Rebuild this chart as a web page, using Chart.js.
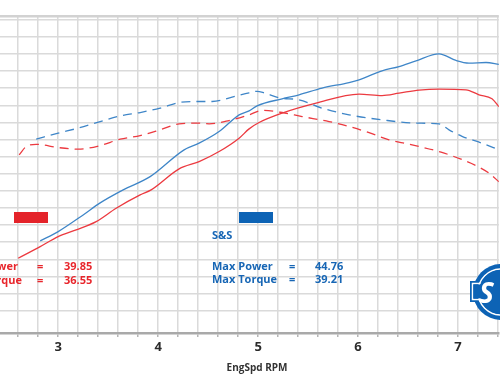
<!DOCTYPE html>
<html>
<head>
<meta charset="utf-8">
<script src="https://cdn.jsdelivr.net/npm/chart.js@4.4.1/dist/chart.umd.min.js"></script>
<style>
  html, body { margin: 0; padding: 0; background: #fff; }
</style>
</head>
<body>
<canvas id="dyno" width="500" height="375"></canvas>
<script>
// engine speed in thousands of rpm, power / torque
const stockPowerRpm = [2.60, 2.82, 3.00, 3.18, 3.38, 3.58, 3.82, 3.93, 4.21, 4.41, 4.61, 4.81, 4.91, 5.01, 5.24, 5.58, 6.01, 6.24, 6.41, 6.61, 6.81, 7.08, 7.21, 7.34, 7.41];
const stockPower    = [15.16, 16.86, 18.32, 19.30, 20.51, 22.47, 24.42, 25.15, 28.22, 29.28, 30.75, 32.70, 34.06, 34.99, 36.36, 37.82, 39.14, 38.93, 39.28, 39.72, 39.87, 39.77, 39.04, 38.45, 37.28];

const stockTorqueRpm = [2.61, 2.68, 2.78, 3.00, 3.20, 3.42, 3.62, 3.82, 4.02, 4.21, 4.41, 4.51, 4.71, 4.91, 5.04, 5.24, 5.44, 5.71, 5.91, 6.11, 6.31, 6.51, 6.83, 7.03, 7.21, 7.31, 7.41];
const stockTorque    = [30.26, 31.48, 31.80, 31.33, 31.10, 31.62, 32.56, 33.08, 33.92, 34.80, 34.90, 34.80, 35.28, 36.11, 36.77, 36.45, 35.86, 35.13, 34.40, 33.52, 32.46, 31.83, 30.66, 29.63, 28.47, 27.59, 26.32];

const ssPowerRpm = [2.82, 3.00, 3.25, 3.42, 3.65, 3.92, 4.26, 4.41, 4.61, 4.81, 4.91, 4.99, 5.24, 5.41, 5.64, 5.91, 6.01, 6.24, 6.41, 6.58, 6.81, 6.98, 7.11, 7.28, 7.41];
const ssPower    = [17.69, 19.05, 21.49, 23.25, 25.15, 27.09, 31.00, 31.97, 33.67, 36.11, 36.70, 37.43, 38.45, 39.04, 40.01, 40.83, 41.23, 42.54, 43.17, 44.01, 45.03, 44.05, 43.67, 43.76, 43.49];

const ssTorqueRpm = [2.78, 3.00, 3.20, 3.42, 3.62, 3.82, 4.02, 4.21, 4.38, 4.54, 4.74, 4.91, 4.99, 5.06, 5.21, 5.41, 5.64, 5.91, 6.24, 6.58, 6.81, 6.91, 7.04, 7.24, 7.41];
const ssTorque    = [32.56, 33.44, 34.17, 35.13, 35.96, 36.45, 37.09, 37.91, 38.06, 38.06, 38.70, 39.33, 39.55, 39.33, 38.60, 38.30, 37.09, 36.11, 35.38, 34.90, 34.80, 33.92, 32.97, 31.97, 31.00];

const rpmTickLabels = [3, 4, 5, 6, 7];
const rpmGrid = [2.6, 2.8, 3.0, 3.2, 3.4, 3.6, 3.8, 4.0, 4.2, 4.4, 4.6, 4.8, 5.0, 5.2, 5.4, 5.6, 5.8, 6.0, 6.2, 6.4, 6.6, 6.8, 7.0, 7.2, 7.4];
const valueGrid = [7.5, 10, 12.5, 15, 17.5, 20, 22.5, 25, 27.5, 30, 32.5, 35, 37.5, 40, 42.5, 45, 47.5, 50];

const RED = '#ec3a40';
const BLUE = '#3f86c8';
const RED_TEXT = '#e8262c';
const BLUE_TEXT = '#1766b5';
const FONT = '"Open Sans", "Noto Sans", sans-serif';

const pts = (xs, ys) => xs.map((x, i) => ({ x: x, y: ys[i] }));

const Y_MIN = 4.24, Y_MAX = 50.55;

const sheetText = {
    id: 'sheetText',
    afterDraw(chart) {
        const ctx = chart.ctx;
        ctx.save();
        // legend swatches
        ctx.fillStyle = '#e4232a';
        ctx.fillRect(14, 212, 34, 11);
        ctx.fillStyle = '#0d63b5';
        ctx.fillRect(239, 212, 34, 11);

        ctx.font = '700 11px ' + FONT;
        ctx.textBaseline = 'alphabetic';
        ctx.textAlign = 'left';
        ctx.fillStyle = BLUE_TEXT;
        ctx.fillText('S&S', 212, 239);
        ctx.fillText('Max Power', 212, 269.5);
        ctx.fillText('Max Torque', 212, 283);
        ctx.fillText('=', 289, 269.5);
        ctx.fillText('=', 289, 283);
        ctx.fillText('44.76', 315, 269.5);
        ctx.fillText('39.21', 315, 283);

        ctx.fillStyle = RED_TEXT;
        ctx.textAlign = 'right';
        ctx.fillText('Max Power', 18, 270);
        ctx.fillText('Max Torque', 22, 284);
        ctx.textAlign = 'left';
        ctx.fillText('=', 37, 270);
        ctx.fillText('=', 37, 284);
        ctx.fillText('39.85', 64, 270);
        ctx.fillText('36.55', 64, 284);

        // axis title
        ctx.fillStyle = '#333';
        ctx.font = '700 10px ' + FONT;
        ctx.textAlign = 'center';
        ctx.fillText('EngSpd RPM', 257, 371);

        // S&S badge, cut off by the right edge
        const cx = 501, cy = 292;
        ctx.fillStyle = '#0d63b5';
        ctx.beginPath(); ctx.arc(cx, cy, 28, 0, Math.PI * 2); ctx.fill();
        ctx.fillRect(470, 281, 16, 21);
        ctx.strokeStyle = '#fff';
        ctx.lineWidth = 1.5;
        ctx.beginPath(); ctx.arc(cx, cy, 23, 0, Math.PI * 2); ctx.stroke();
        ctx.strokeRect(472.5, 283.5, 12, 16);
        ctx.fillStyle = '#0d63b5';
        ctx.beginPath(); ctx.arc(cx, cy, 22, 0, Math.PI * 2); ctx.fill();
        ctx.fillRect(473.5, 284.5, 11, 14);
        ctx.fillStyle = '#fff';
        ctx.font = 'italic 700 28px ' + FONT;
        ctx.textAlign = 'left';
        ctx.fillText('S', 479, 303);
        ctx.restore();
    }
};

new Chart(document.getElementById('dyno'), {
    type: 'line',
    data: {
        datasets: [
            { label: 'Stock torque', data: pts(stockTorqueRpm, stockTorque), borderColor: RED, borderDash: [9, 6] },
            { label: 'S&S torque', data: pts(ssTorqueRpm, ssTorque), borderColor: BLUE, borderDash: [9, 6] },
            { label: 'Stock power', data: pts(stockPowerRpm, stockPower), borderColor: RED },
            { label: 'S&S power', data: pts(ssPowerRpm, ssPower), borderColor: BLUE }
        ].map(ds => Object.assign({ borderWidth: 1.3, pointRadius: 0, tension: 0, cubicInterpolationMode: 'monotone', fill: false }, ds))
    },
    options: {
        responsive: false,
        animation: false,
        layout: { padding: { top: 16, left: 0, right: 0, bottom: 0 } },
        plugins: { legend: { display: false }, tooltip: { enabled: false } },
        scales: {
            x: {
                type: 'linear',
                min: 2.418,
                max: 7.408,
                afterBuildTicks: (scale) => { scale.ticks = rpmGrid.map(v => ({ value: v })); },
                afterFit: (scale) => { scale.height = 42; },
                ticks: {
                    autoSkip: false,
                    maxRotation: 0,
                    padding: 2,
                    color: '#2b2b2b',
                    font: { family: FONT, size: 13, weight: '700' },
                    callback: (v) => rpmTickLabels.includes(Math.round(v * 10) / 10) ? String(Math.round(v)) : ''
                },
                grid: { color: '#dadada', lineWidth: 1.5, tickLength: 4, tickColor: '#b5b5b5' },
                border: { color: '#a9a9a9', width: 2.5 }
            },
            y: {
                min: Y_MIN,
                max: Y_MAX,
                afterBuildTicks: (scale) => { scale.ticks = valueGrid.concat([Y_MAX]).map(v => ({ value: v })); },
                afterFit: (scale) => { scale.width = 0; },
                ticks: { display: false },
                grid: {
                    drawTicks: false,
                    color: (c) => c.tick && c.tick.value === Y_MAX ? '#d2d2d2' : '#dadada',
                    lineWidth: (c) => c.tick && c.tick.value === Y_MAX ? 2.5 : 1.5
                },
                border: { display: false }
            }
        }
    },
    plugins: [sheetText]
});
</script>
</body>
</html>
